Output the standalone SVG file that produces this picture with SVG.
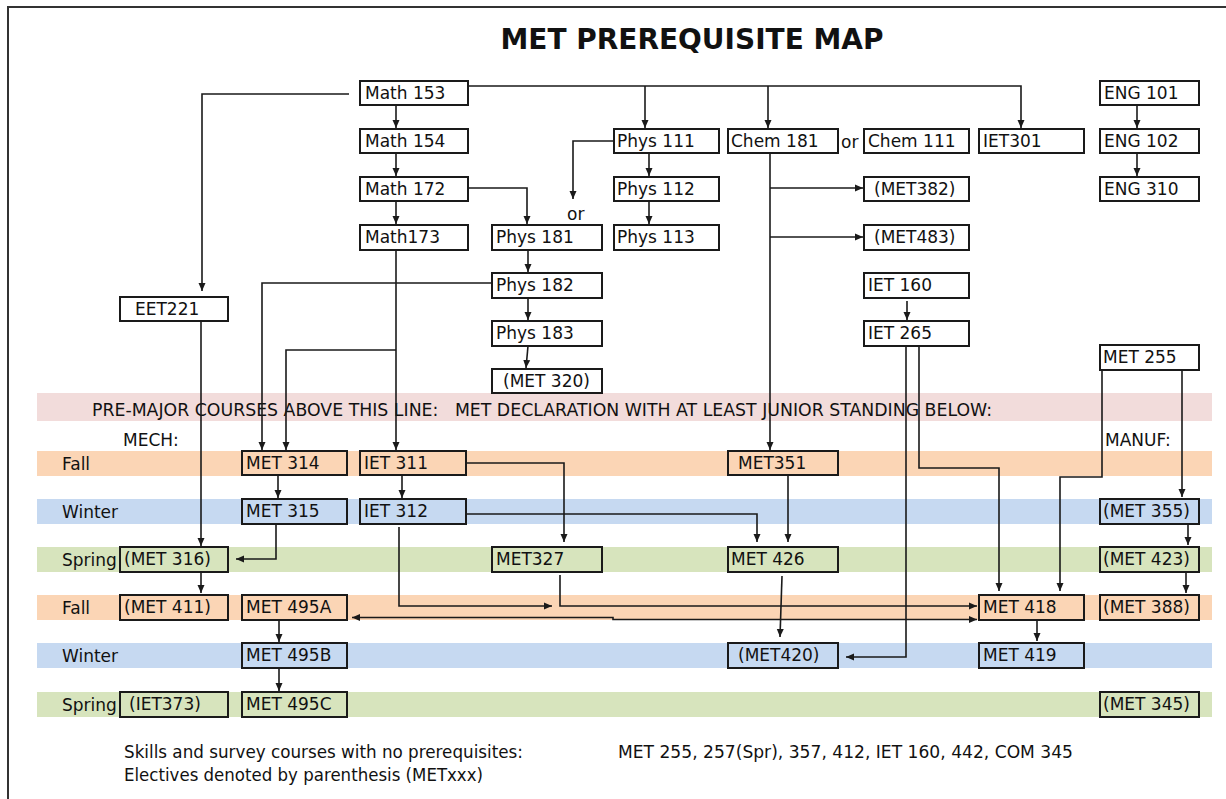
<svg xmlns="http://www.w3.org/2000/svg" width="1226" height="799" viewBox="0 0 1226 799">
<defs>
<style>
.t{font-family:"DejaVu Sans","Liberation Sans",sans-serif;font-size:17px;fill:#111}
.n rect{fill:#fff;stroke:#1a1a1a;stroke-width:2}
.n.fa rect{fill:#fbd5b5}
.n.wi rect{fill:#c6d9f1}
.n.sp rect{fill:#d7e4bd}
.c path{fill:none;stroke:#1a1a1a;stroke-width:1.6;marker-end:url(#ah)}
.c path.nm{marker-end:none}
.bfa{fill:#fbd5b5}.bwi{fill:#c6d9f1}.bsp{fill:#d7e4bd}.bpk{fill:#f2dcdb}
</style>
<marker id="ah" viewBox="0 0 8 8" markerWidth="8" markerHeight="8" refX="8" refY="4" orient="auto-start-reverse" markerUnits="userSpaceOnUse">
<path d="M0,0.5 L8,4 L0,7.5 z" fill="#1a1a1a"/>
</marker>
</defs>
<rect width="1226" height="799" fill="#fff"/>
<path d="M8,799 V7 H1226" fill="none" stroke="#333" stroke-width="2"/>
<text x="692" y="49" text-anchor="middle" font-family="DejaVu Sans, sans-serif" font-weight="bold" font-size="28" fill="#111" textLength="383" lengthAdjust="spacingAndGlyphs">MET PREREQUISITE MAP</text>

<g id="bands">
<rect class="bpk" x="37" y="393" width="1175" height="28"/>
<rect class="bfa" x="37" y="451" width="1175" height="25"/>
<rect class="bwi" x="37" y="499" width="1175" height="25"/>
<rect class="bsp" x="37" y="547" width="1175" height="25"/>
<rect class="bfa" x="37" y="595" width="1175" height="25"/>
<rect class="bwi" x="37" y="643" width="1175" height="25"/>
<rect class="bsp" x="37" y="692" width="1175" height="25"/>
<text class="t" x="92" y="416" textLength="900" lengthAdjust="spacingAndGlyphs" xml:space="preserve">PRE-MAJOR COURSES ABOVE THIS LINE:   MET DECLARATION WITH AT LEAST JUNIOR STANDING BELOW:</text>
<text class="t" x="123" y="446">MECH:</text>
<text class="t" x="1105" y="446">MANUF:</text>
<text class="t" x="62" y="470">Fall</text>
<text class="t" x="62" y="518">Winter</text>
<text class="t" x="62" y="566">Spring</text>
<text class="t" x="62" y="614">Fall</text>
<text class="t" x="62" y="662">Winter</text>
<text class="t" x="62" y="711">Spring</text>
</g>

<g id="connectors" class="c">
<path d="M349,94 H202 V291"/>
<path d="M468,86 H1021 V128"/>
<path d="M645,86 V128"/>
<path d="M768,86 V128"/>
<path d="M396,104 V128"/>
<path d="M396,153 V176"/>
<path d="M396,201 V224"/>
<path d="M468,188 H527 V224"/>
<path d="M613,141 H573 V199"/>
<path d="M649,153 V176"/>
<path d="M649,201 V224"/>
<path d="M770,153 V450"/>
<path d="M770,188 H863"/>
<path d="M770,237 H863"/>
<path d="M1137,104 V128"/>
<path d="M1137,153 V176"/>
<path d="M907,301 V320"/>
<path d="M396,250 V450"/>
<path d="M396,350 H286 V450"/>
<path d="M492,283 H262 V450"/>
<path d="M528,250 V272"/>
<path d="M528,298 V320"/>
<path d="M528,346 L526,368"/>
<path d="M201,321 V546"/>
<path d="M278,475 V498"/>
<path d="M276,524 V559 H236"/>
<path d="M402,475 V498"/>
<path d="M466,463 H564 V542"/>
<path d="M466,514 H757 V542"/>
<path d="M788,475 V542"/>
<path d="M399,527 V606 H552"/>
<path d="M560,575 V606 H977"/>
<path d="M352,617.5 H613 V619.5 H977" marker-start="url(#ah)"/>
<path d="M782,576 L780,637"/>
<path d="M906,346 V657 H846"/>
<path d="M919,346 V468 H999 V591"/>
<path d="M1102,370 V477 H1060 V591"/>
<path d="M1182,370 V497"/>
<path d="M1188,524 V545"/>
<path d="M1186,572 V593"/>
<path d="M201,566 V593"/>
<path d="M279,620 V642"/>
<path d="M279,668 V691"/>
<path d="M1037,620 V641"/>
</g>

<text class="t" x="567" y="220">or</text>
<text class="t" x="841" y="148">or</text>

<g id="math153" class="n"><rect x="360" y="81" width="108" height="24"/><text class="t" x="365" y="99">Math 153</text></g>
<g id="math154" class="n"><rect x="360" y="129" width="108" height="24"/><text class="t" x="365" y="147">Math 154</text></g>
<g id="math172" class="n"><rect x="360" y="177" width="108" height="24"/><text class="t" x="365" y="195">Math 172</text></g>
<g id="math173" class="n"><rect x="360" y="225" width="108" height="25"/><text class="t" x="365" y="243">Math173</text></g>
<g id="phys181" class="n"><rect x="492" y="225" width="110" height="25"/><text class="t" x="496" y="243">Phys 181</text></g>
<g id="phys182" class="n"><rect x="492" y="273" width="110" height="25"/><text class="t" x="496" y="291">Phys 182</text></g>
<g id="phys183" class="n"><rect x="492" y="321" width="110" height="25"/><text class="t" x="496" y="339">Phys 183</text></g>
<g id="met320" class="n"><rect x="492" y="369" width="110" height="24"/><text class="t" x="503" y="387">(MET 320)</text></g>
<g id="eet221" class="n"><rect x="120" y="297" width="108" height="24"/><text class="t" x="135" y="315">EET221</text></g>
<g id="phys111" class="n"><rect x="614" y="129" width="105" height="24"/><text class="t" x="617" y="147">Phys 111</text></g>
<g id="phys112" class="n"><rect x="614" y="177" width="105" height="24"/><text class="t" x="617" y="195">Phys 112</text></g>
<g id="phys113" class="n"><rect x="614" y="225" width="105" height="25"/><text class="t" x="617" y="243">Phys 113</text></g>
<g id="chem181" class="n"><rect x="728" y="129" width="110" height="24"/><text class="t" x="731" y="147">Chem 181</text></g>
<g id="chem111" class="n"><rect x="864" y="129" width="105" height="24"/><text class="t" x="868" y="147">Chem 111</text></g>
<g id="met382" class="n"><rect x="864" y="177" width="105" height="24"/><text class="t" x="874" y="195">(MET382)</text></g>
<g id="met483" class="n"><rect x="864" y="225" width="105" height="25"/><text class="t" x="874" y="243">(MET483)</text></g>
<g id="iet160" class="n"><rect x="864" y="273" width="105" height="25"/><text class="t" x="868" y="291">IET 160</text></g>
<g id="iet265" class="n"><rect x="864" y="321" width="105" height="25"/><text class="t" x="868" y="339">IET 265</text></g>
<g id="iet301" class="n"><rect x="979" y="129" width="105" height="24"/><text class="t" x="983" y="147">IET301</text></g>
<g id="eng101" class="n"><rect x="1100" y="81" width="99" height="24"/><text class="t" x="1104" y="99">ENG 101</text></g>
<g id="eng102" class="n"><rect x="1100" y="129" width="99" height="24"/><text class="t" x="1104" y="147">ENG 102</text></g>
<g id="eng310" class="n"><rect x="1100" y="177" width="99" height="24"/><text class="t" x="1104" y="195">ENG 310</text></g>
<g id="met255" class="n"><rect x="1100" y="345" width="99" height="25"/><text class="t" x="1103" y="363">MET 255</text></g>

<g id="met314" class="n fa"><rect x="242" y="451" width="105" height="24"/><text class="t" x="246" y="469">MET 314</text></g>
<g id="met315" class="n wi"><rect x="242" y="499" width="105" height="25"/><text class="t" x="246" y="517">MET 315</text></g>
<g id="met316" class="n sp"><rect x="120" y="547" width="108" height="25"/><text class="t" x="124" y="565">(MET 316)</text></g>
<g id="met411" class="n fa"><rect x="120" y="595" width="108" height="25"/><text class="t" x="124" y="613">(MET 411)</text></g>
<g id="iet373" class="n sp"><rect x="120" y="692" width="108" height="25"/><text class="t" x="129" y="710">(IET373)</text></g>
<g id="met495a" class="n fa"><rect x="242" y="595" width="105" height="25"/><text class="t" x="246" y="613">MET 495A</text></g>
<g id="met495b" class="n wi"><rect x="242" y="643" width="105" height="25"/><text class="t" x="246" y="661">MET 495B</text></g>
<g id="met495c" class="n sp"><rect x="242" y="692" width="105" height="25"/><text class="t" x="246" y="710">MET 495C</text></g>
<g id="iet311" class="n fa"><rect x="360" y="451" width="106" height="24"/><text class="t" x="364" y="469">IET 311</text></g>
<g id="iet312" class="n wi"><rect x="360" y="499" width="106" height="25"/><text class="t" x="364" y="517">IET 312</text></g>
<g id="met327" class="n sp"><rect x="492" y="547" width="110" height="25"/><text class="t" x="496" y="565">MET327</text></g>
<g id="met351" class="n fa"><rect x="728" y="451" width="110" height="24"/><text class="t" x="738" y="469">MET351</text></g>
<g id="met426" class="n sp"><rect x="728" y="547" width="110" height="25"/><text class="t" x="731" y="565">MET 426</text></g>
<g id="met420" class="n wi"><rect x="728" y="643" width="110" height="25"/><text class="t" x="738" y="661">(MET420)</text></g>
<g id="met418" class="n fa"><rect x="979" y="595" width="105" height="25"/><text class="t" x="983" y="613">MET 418</text></g>
<g id="met419" class="n wi"><rect x="979" y="643" width="105" height="25"/><text class="t" x="983" y="661">MET 419</text></g>
<g id="met355" class="n wi"><rect x="1100" y="499" width="99" height="25"/><text class="t" x="1103" y="517">(MET 355)</text></g>
<g id="met423" class="n sp"><rect x="1100" y="547" width="99" height="25"/><text class="t" x="1103" y="565">(MET 423)</text></g>
<g id="met388" class="n fa"><rect x="1100" y="595" width="99" height="25"/><text class="t" x="1103" y="613">(MET 388)</text></g>
<g id="met345" class="n sp"><rect x="1100" y="692" width="99" height="25"/><text class="t" x="1103" y="710">(MET 345)</text></g>

<g id="footer">
<text class="t" x="124" y="758" textLength="399" lengthAdjust="spacingAndGlyphs">Skills and survey courses with no prerequisites:</text>
<text class="t" x="618" y="758" textLength="455" lengthAdjust="spacingAndGlyphs">MET 255, 257(Spr), 357, 412, IET 160, 442, COM 345</text>
<text class="t" x="124" y="781" textLength="359" lengthAdjust="spacingAndGlyphs">Electives denoted by parenthesis (METxxx)</text>
</g>
</svg>
